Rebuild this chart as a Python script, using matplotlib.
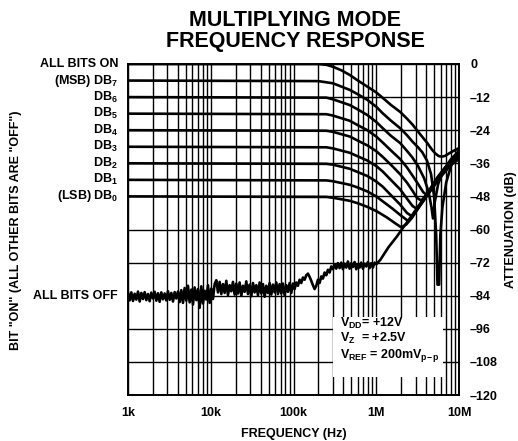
#!/usr/bin/env python3
"""Multiplying mode frequency response (DAC datasheet style)."""

import matplotlib
matplotlib.use("Agg")
import matplotlib.pyplot as plt
import numpy as np
from matplotlib.patches import Rectangle
from matplotlib.ticker import FixedLocator, NullLocator

plt.rcParams["font.family"] = ["Liberation Sans", "DejaVu Sans"]
plt.rcParams["font.weight"] = "bold"
plt.rcParams["mathtext.fontset"] = "custom"
plt.rcParams["mathtext.bf"] = "Liberation Sans:bold"
plt.rcParams["mathtext.rm"] = "Liberation Sans:bold"

# ---- data (frequency in Hz, response in dB) ----
all_on_f = [1e3, 2e5, 2.5e5, 3e5, 3.8e5, 4.8e5, 6e5, 7.8e5, 1e6, 1.2e6, 1.5e6, 1.95e6,
            2.35e6, 2.75e6, 3.4e6, 4.1e6, 4.7e6, 5.2e6, 5.7e6, 6.2e6, 6.8e6, 7.6e6, 8.7e6, 1e7]
all_on_db = [0, 0, -0.3, -1, -2.3, -4, -6, -8.2, -10.3, -12.3, -14.8, -17.4,
             -19.8, -22, -25.5, -28.5, -31, -32.5, -33.4, -33.6, -33.3, -32.4, -31.4, -30.5]

db7_f = [1e3, 2e5, 3e5, 4.8e5, 6e5, 7.8e5, 1e6, 1.2e6, 1.5e6, 1.95e6, 2.35e6, 2.75e6,
         3.2e6, 3.6e6, 4.1e6, 4.6e6, 5.0e6, 5.3e6, 5.5e6, 5.75e6, 5.95e6, 6.3e6, 7e6, 8e6, 1e7]
db7_db = [-6, -6.2, -7, -9.4, -11, -13, -15.5, -17.9, -20.5, -23.3, -25.8, -28.2,
          -30.2, -32, -35, -40, -48, -62, -80, -80, -62, -52, -43, -37, -31]

db6_f = [1e3, 2.5e5, 3e5, 4.8e5, 6e5, 7.8e5, 1e6, 1.2e6, 1.5e6, 1.95e6, 2.35e6, 2.75e6,
         3.2e6, 3.8e6, 4.3e6, 4.65e6, 4.85e6, 5.1e6, 5.6e6, 6.5e6, 8e6, 1e7]
db6_db = [-12, -12.2, -12.8, -14.9, -16.5, -18.5, -21, -23.3, -26, -28.7, -31.5, -34,
          -37, -41.5, -46.5, -52, -56, -50, -43.5, -38.5, -34.5, -31.5]

db5_f = [1e3, 2.5e5, 3e5, 4.8e5, 6e5, 7.8e5, 1e6, 1.2e6, 1.5e6, 1.95e6, 2.35e6, 2.75e6,
         3.2e6, 3.7e6, 4.1e6, 4.6e6, 5.5e6, 6.8e6, 8e6, 1e7]
db5_db = [-18, -18.2, -18.7, -20.6, -22.2, -24, -26.3, -28.5, -31.3, -34.5, -37.5, -40.5,
          -43.5, -46.5, -47.5, -45, -41, -37.5, -35, -32]

db4_f = [1e3, 2.5e5, 3e5, 4.8e5, 6e5, 7.8e5, 1e6, 1.2e6, 1.5e6, 1.95e6, 2.35e6, 2.75e6,
         3.1e6, 3.5e6, 4e6, 5e6, 6.3e6, 8e6, 1e7]
db4_db = [-24, -24.2, -24.6, -26.3, -27.8, -29.5, -31.6, -33.7, -36.5, -40, -43, -46,
          -48.5, -49.5, -47.5, -43, -39, -35, -32.5]

db3_f = [1e3, 2.5e5, 3e5, 4.8e5, 6e5, 7.8e5, 1e6, 1.2e6, 1.5e6, 1.95e6, 2.35e6, 2.75e6,
         3.1e6, 3.5e6, 4.2e6, 5e6, 6.3e6, 8e6, 1e7]
db3_db = [-30, -30.2, -30.6, -32.2, -33.5, -35, -37, -39, -42, -45.5, -48.8, -51.5,
          -52.5, -50.5, -47, -43.5, -39.5, -35.5, -33]

db2_f = [1e3, 2.5e5, 3e5, 4.8e5, 6e5, 7.8e5, 1e6, 1.2e6, 1.5e6, 1.95e6, 2.35e6, 2.7e6,
         3.1e6, 3.6e6, 4.3e6, 5.2e6, 6.5e6, 8e6, 1e7]
db2_db = [-36, -36.2, -36.5, -38, -39.2, -40.6, -42.6, -44.5, -47.5, -51, -54, -55.2,
          -53, -50.2, -46.8, -43, -39, -36, -33.5]

db1_f = [1e3, 2.5e5, 3e5, 4.8e5, 6e5, 7.8e5, 1e6, 1.2e6, 1.58e6, 2e6, 2.4e6, 2.7e6,
         3.2e6, 4e6, 5e6, 6.3e6, 8e6, 1e7]
db1_db = [-42, -42.2, -42.5, -43.8, -44.8, -46.2, -48, -49.8, -52.5, -55, -56.8, -55.5,
          -52, -47.8, -43.8, -39.8, -36.2, -34]

db0_f = [1e3, 2.5e5, 3e5, 4.8e5, 6e5, 7.8e5, 1e6, 1.34e6, 1.65e6, 2e6, 2.3e6, 2.7e6,
         3.2e6, 4e6, 5e6, 6.3e6, 8e6, 1e7]
db0_db = [-48, -48.2, -48.5, -49.6, -50.5, -51.8, -53.3, -55.6, -57.5, -59.2, -58.2, -55.8,
          -52.3, -48.2, -44.2, -40.2, -36.6, -34.5]

# all bits off: noisy floor sampled evenly in log f from 1 kHz to 1 MHz
off_noise_db = (
    [-82.9, -85.7, -82.8, -85.9, -83.3, -85.4, -82.5, -86.1, -83.0, -85.2, -82.7,
     -85.6, -83.4, -86.0, -82.9, -85.0, -82.6, -85.8, -83.1, -86.2, -82.8, -85.3,
     -83.2, -85.7, -82.4, -85.5, -83.0, -86.1, -82.7, -85.0, -82.5]
    + [-86.3, -82.0, -86.6, -81.2, -85.8, -80.4, -86.4, -81.8, -87.2, -81.0, -85.6,
       -81.6, -88.4, -80.6, -86.8, -82.2, -85.4, -80.2, -86.6, -81.4, -85.2, -79.8]
    + [-78.4, -82.8, -79.0, -83.4, -79.8, -83.0, -78.6, -83.8, -80.2, -82.4, -79.0,
       -83.6, -79.6, -83.2, -79.2, -84.0, -80.4, -82.6, -78.8, -83.4, -80.0, -84.2,
       -79.4, -82.8, -80.2, -83.8, -79.2, -83.2, -79.8, -84.4, -80.4, -83.0, -79.4,
       -83.6, -80.0, -82.8, -79.2, -83.4, -79.8, -83.2, -79.6, -83.8, -80.2, -82.6,
       -79.4, -83.0, -79.6]
    + [-81.6, -79.2, -80.4, -78.2, -79.4, -77.4, -78.2, -76.6, -76.0, -77.2]
    + [-78.6, -80.2, -81.6, -80.4]
    + [-78.2, -79.4, -77.0, -77.8, -75.6, -76.6, -74.6, -75.6, -73.4, -74.4, -72.6]
    + [-74.2, -72.2, -74.0, -72.0, -74.4, -72.4, -73.8, -71.6, -74.2, -72.2, -73.6,
       -71.8, -74.4, -72.6, -73.8, -72.0, -74.2, -72.4, -73.4, -71.8, -74.0, -72.2,
       -73.8, -72.0, -72.6]
)
off_tail_f = [1.12e6, 1.4e6, 1.78e6, 2e6, 2.5e6, 3.2e6, 4e6, 5e6, 6.3e6, 8e6, 1e7]
off_tail_db = [-71, -66.5, -62.5, -60.3, -56.3, -51.7, -47.7, -43.7, -39.6, -35.5, -32]

row_labels = ["ALL BITS ON", r"(MSB) DB$_{\mathbf{7}}$", r"DB$_{\mathbf{6}}$", r"DB$_{\mathbf{5}}$",
              r"DB$_{\mathbf{4}}$", r"DB$_{\mathbf{3}}$", r"DB$_{\mathbf{2}}$", r"DB$_{\mathbf{1}}$",
              r"(LSB) DB$_{\mathbf{0}}$", "ALL BITS OFF"]
row_levels = [0, -6, -12, -18, -24, -30, -36, -42, -48, -84]

x_ticks = [1e3, 1e4, 1e5, 1e6, 1e7]
x_ticklabels = ["1k", "10k", "100k", "1M", "10M"]
y_ticks = [0, -12, -24, -36, -48, -60, -72, -84, -96, -108, -120]
y_ticklabels = ["0" if v == 0 else "\u2013" + str(-v) for v in y_ticks]

# ---- figure ----
fig = plt.figure(figsize=(5.18, 4.41), dpi=100)
ax = fig.add_axes([128 / 518, 46 / 441, 331 / 518, 331 / 441])

ax.set_xscale("log")
ax.set_xlim(1e3, 1e7)
ax.set_ylim(-120, 0)

ax.xaxis.set_major_locator(FixedLocator(x_ticks))
ax.xaxis.set_minor_locator(FixedLocator(
    [k * 10 ** e for e in range(3, 7) for k in range(2, 10)]))
ax.set_xticklabels(x_ticklabels)
ax.yaxis.set_major_locator(FixedLocator(y_ticks))
ax.yaxis.set_minor_locator(NullLocator())
ax.set_yticklabels(y_ticklabels)
ax.yaxis.tick_right()
ax.yaxis.set_label_position("right")

ax.grid(which="major", color="black", linewidth=1.0)
ax.grid(which="minor", axis="x", color="black", linewidth=1.0)
ax.tick_params(which="both", length=0, labelsize=9)
ax.tick_params(axis="x", pad=9)
ax.tick_params(axis="y", pad=8)
for s in ax.spines.values():
    s.set_linewidth(1.4)

# white block behind the conditions note
ax.add_patch(Rectangle((0.62, 0.055), 0.332, 0.18, transform=ax.transAxes,
                       facecolor="white", edgecolor="none", zorder=2))

curves = [
    (all_on_f, all_on_db), (db7_f, db7_db), (db6_f, db6_db), (db5_f, db5_db),
    (db4_f, db4_db), (db3_f, db3_db), (db2_f, db2_db), (db1_f, db1_db), (db0_f, db0_db),
]
for f, d in curves:
    ax.plot(f, d, color="black", linewidth=1.9, zorder=3, solid_joinstyle="round")

noise_f = np.logspace(3, 6, len(off_noise_db))
ax.plot(list(noise_f) + off_tail_f, off_noise_db + off_tail_db,
        color="black", linewidth=1.9, zorder=3)

# left-hand row labels
trans = ax.get_yaxis_transform()
for lab, lev in zip(row_labels, row_levels):
    ax.text(-0.03, lev, lab, transform=trans, ha="right", va="center",
            fontsize=9, fontweight="bold")

ax.text(0.64, 0.215, r"V$_{\mathbf{DD}}$= +12V", transform=ax.transAxes,
        fontsize=9, fontweight="bold", va="center", zorder=4)
ax.text(0.64, 0.17, r"V$_{\mathbf{Z}}$  = +2.5V", transform=ax.transAxes,
        fontsize=9, fontweight="bold", va="center", zorder=4)
ax.text(0.64, 0.12, r"V$_{\mathbf{REF}}$ = 200mV$_{\mathbf{p\!-\!p}}$", transform=ax.transAxes,
        fontsize=9, fontweight="bold", va="center", zorder=4)

ax.set_xlabel("FREQUENCY (Hz)", fontsize=9, fontweight="bold", labelpad=6)
ax.set_ylabel("ATTENUATION (dB)", fontsize=9, fontweight="bold", labelpad=5)
fig.text(0.03, 1 - 230 / 441, 'BIT "ON" (ALL OTHER BITS ARE "OFF")', rotation=90,
         ha="center", va="center", fontsize=9, fontweight="bold")

fig.text(295 / 518, 1 - 31 / 441, "MULTIPLYING MODE\nFREQUENCY RESPONSE",
         ha="center", va="center", fontsize=15.5, fontweight="bold", linespacing=1.05)

fig.savefig("out.png", dpi=100)
